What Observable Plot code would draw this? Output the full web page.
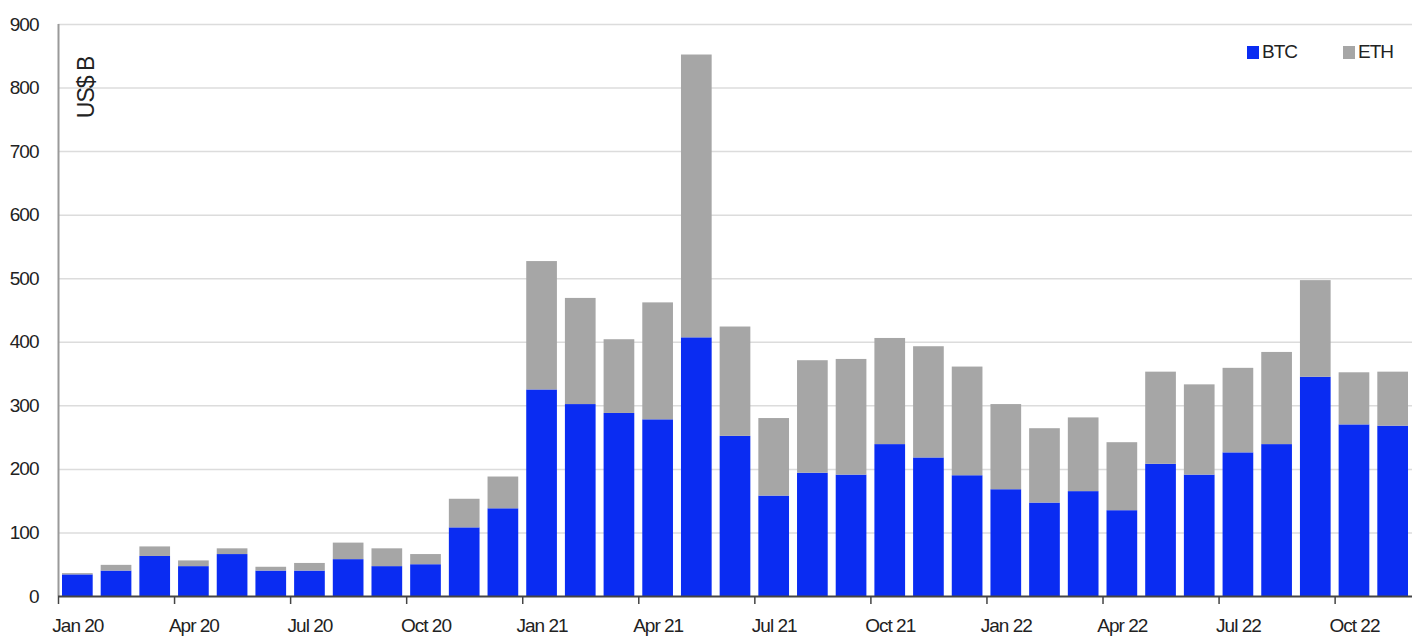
<!DOCTYPE html>
<html>
<head>
<meta charset="utf-8">
<script src="https://cdn.jsdelivr.net/npm/d3@7"></script>
<script src="https://cdn.jsdelivr.net/npm/@observablehq/plot@0.6"></script>
<style>
  html, body { margin: 0; padding: 0; background: #fff; }
  #wrap { position: relative; width: 1417px; height: 644px; font-family: "Liberation Sans", Arial, sans-serif; }
  #chart svg text { letter-spacing: -1px; }
  #chart svg text.unit { letter-spacing: 0; }
  #legend { position: absolute; top: 41px; left: 1247px; display: flex; align-items: center; font-size: 19px; letter-spacing: -1px; color: #222; }
  #legend .item { display: flex; align-items: center; }
  #legend .sw { width: 12px; height: 13px; margin-right: 3px; }
</style>
</head>
<body>
<div id="wrap">
  <div id="chart"></div>
  <div id="legend"></div>
</div>
<script>
// Monthly spot trading volume, US$ billions
const months = [
  "Jan 20","Feb 20","Mar 20","Apr 20","May 20","Jun 20","Jul 20","Aug 20","Sep 20","Oct 20","Nov 20","Dec 20",
  "Jan 21","Feb 21","Mar 21","Apr 21","May 21","Jun 21","Jul 21","Aug 21","Sep 21","Oct 21","Nov 21","Dec 21",
  "Jan 22","Feb 22","Mar 22","Apr 22","May 22","Jun 22","Jul 22","Aug 22","Sep 22","Oct 22","Nov 22"
];
const btc = [
  34, 40, 63, 47, 66, 40, 40, 58, 47, 50, 108, 138,
  325, 302, 288, 278, 407, 252, 158, 194, 191, 239, 218, 190,
  168, 147, 165, 135, 208, 191, 226, 239, 345, 270, 268
];
const eth = [
  2, 9, 15, 9, 9, 6, 12, 26, 28, 16, 45, 50,
  202, 167, 116, 184, 445, 172, 122, 177, 182, 167, 175, 171,
  134, 117, 116, 107, 145, 142, 133, 145, 152, 82, 85
];
const series = ["BTC", "ETH"];
const colors = ["#0a2cf2", "#a6a6a6"];
const quarterLabels = ["Jan 20","Apr 20","Jul 20","Oct 20","Jan 21","Apr 21","Jul 21","Oct 21","Jan 22","Apr 22","Jul 22","Oct 22"];
const yTicks = [0, 100, 200, 300, 400, 500, 600, 700, 800, 900];

// Stacked segments: BTC at the bottom, ETH on top
const rows = months.flatMap((m, i) => [
  {i, month: m, series: "BTC", y1: 0, y2: btc[i]},
  {i, month: m, series: "ETH", y1: btc[i], y2: btc[i] + eth[i]}
]);

// Quarter boundaries (tick marks) and quarter-month centres (labels)
const quarterIdx = quarterLabels.map(q => months.indexOf(q));
const labelPos = quarterIdx.map(i => i + 0.5);
const labelAt = new Map(labelPos.map((p, k) => [p, quarterLabels[k]]));

const font = "'Liberation Sans', Arial, sans-serif";

const chart = Plot.plot({
  width: 1417,
  height: 644,
  marginLeft: 58,
  marginRight: 5,
  marginTop: 24,
  marginBottom: 48,
  style: {fontFamily: font, fontSize: "19px", color: "#222", background: "#fff"},
  x: {type: "linear", domain: [0, months.length], axis: null, label: null},
  y: {domain: [0, 900], axis: null, label: null},
  color: {domain: series, range: colors},
  marks: [
    Plot.gridY(yTicks.filter(d => d > 0), {stroke: "#dcdcdc", strokeOpacity: 1, strokeWidth: 1.5}),
    Plot.axisY(yTicks, {tickSize: 0, tickPadding: 20, fontSize: 19, fill: "#222", label: null}),
    Plot.rectY(rows, {
      x1: "i",
      x2: d => d.i + 1,
      y1: "y1",
      y2: "y2",
      fill: "series",
      insetLeft: 4,
      insetRight: 4
    }),
    Plot.ruleX([0], {stroke: "#9a9a9a", strokeWidth: 2}),
    Plot.ruleY([0], {stroke: "#444", strokeWidth: 2}),
    Plot.axisX(quarterIdx, {tickSize: 8, tickFormat: () => "", stroke: "#444", strokeWidth: 1.5, label: null}),
    Plot.axisX(labelPos, {tickSize: 0, tickPadding: 22, tickFormat: d => labelAt.get(d), fontSize: 19, fill: "#222", label: null}),
    Plot.text(["US$ B"], {
      frameAnchor: "top-left",
      rotate: -90,
      dx: 19,
      dy: 63,
      textAnchor: "middle",
      fontSize: 23,
      fill: "#222",
      className: "unit"
    })
  ]
});
document.getElementById("chart").append(chart);

// Legend
const legend = document.getElementById("legend");
series.forEach((s, k) => {
  const item = document.createElement("div");
  item.className = "item";
  item.style.marginRight = k === 0 ? "46px" : "0";
  const sw = document.createElement("span");
  sw.className = "sw";
  sw.style.background = colors[k];
  const label = document.createElement("span");
  label.textContent = s;
  item.append(sw, label);
  legend.append(item);
});
</script>
</body>
</html>
